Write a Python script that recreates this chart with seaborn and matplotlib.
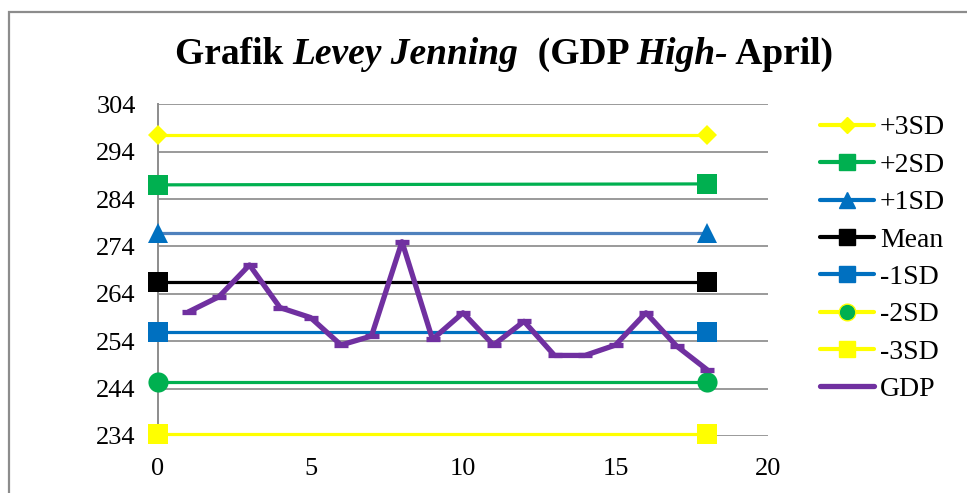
import matplotlib
matplotlib.use("Agg")
import matplotlib.pyplot as plt
from matplotlib.lines import Line2D
from matplotlib.patches import Rectangle
import seaborn as sns
import pandas as pd

sns.set_theme(style="white")
plt.rcParams["font.family"] = ["Liberation Serif", "DejaVu Serif"]
plt.rcParams["text.color"] = "black"

# Control limits (drawn at the first and last run)
limit_x = [0, 18]
plus3sd = [297.6, 297.6]
plus2sd = [287.0, 287.2]
plus1sd = [276.9, 276.9]
mean = [266.5, 266.5]
minus1sd = [255.9, 255.9]
minus2sd = [245.5, 245.5]
minus3sd = [234.4, 234.4]

# GDP measurements per run
runs = list(range(1, 19))
gdp = [260.2, 263.4, 270.1, 261.1, 259.0, 253.2, 255.1, 275.0, 254.4,
       260.0, 253.2, 258.2, 251.0, 251.0, 253.2, 260.0, 253.0, 248.0]

y_ticks = [234, 244, 254, 264, 274, 284, 294, 304]
x_ticks = [0, 5, 10, 15, 20]

YELLOW = "#FFFF00"
GREEN = "#00B050"
BLUE = "#0070C0"
STEEL = "#4F81BD"
PURPLE = "#7030A0"

W, H = 967, 493
fig = plt.figure(figsize=(W / 100, H / 100), dpi=100)
ax = fig.add_axes([158 / W, 1 - 436 / H, (768 - 158) / W, (436 - 104.3) / H])

# Outer chart border (top and left edges visible)
fig.patches.append(Rectangle((8.5 / W, -0.1), 1.2, (493 - 12.5) / H + 0.1,
                             transform=fig.transFigure, fill=False,
                             edgecolor="#8c8c8c", lw=1.6, zorder=0))

series = [
    ("+3SD", plus3sd, YELLOW, YELLOW, "D", 10),
    ("+2SD", plus2sd, GREEN, GREEN, "s", 14),
    ("+1SD", plus1sd, STEEL, BLUE, "^", 14),
    ("Mean", mean, "black", "black", "s", 14.5),
    ("-1SD", minus1sd, BLUE, BLUE, "s", 14.5),
    ("-2SD", minus2sd, GREEN, GREEN, "o", 14.5),
    ("-3SD", minus3sd, YELLOW, YELLOW, "s", 14.5),
]
for name, vals, lc, mc, mk, ms in series:
    df = pd.DataFrame({"x": limit_x, "y": vals})
    sns.lineplot(data=df, x="x", y="y", ax=ax, color=lc, lw=2.3,
                 marker=mk, markersize=ms, markerfacecolor=mc,
                 markeredgecolor=mc, markeredgewidth=0, zorder=3,
                 clip_on=False)

gdf = pd.DataFrame({"run": runs, "GDP": gdp})
sns.lineplot(data=gdf, x="run", y="GDP", ax=ax, color=PURPLE, lw=3.8,
             marker="_", markersize=10, markeredgewidth=3.8,
             markeredgecolor=PURPLE, zorder=4, clip_on=False)

ax.set_xlim(0, 20)
ax.set_ylim(234, 304)
ax.set_yticks(y_ticks)
ax.set_xticks(x_ticks)
ax.set_xlabel("")
ax.set_ylabel("")
ax.grid(axis="y", color="#9a9a9a", lw=1.4)
ax.grid(axis="x", visible=False)
ax.set_axisbelow(True)
for s in ["top", "right", "bottom"]:
    ax.spines[s].set_visible(False)
ax.spines["left"].set_color("#8c8c8c")
ax.spines["left"].set_linewidth(1.4)
ax.tick_params(axis="both", length=0, labelsize=19, colors="black")
ax.tick_params(axis="y", pad=16)
ax.tick_params(axis="x", pad=16)
ax.set_facecolor("white")

# Legend
handles = [
    Line2D([], [], color=YELLOW, lw=3, marker="D", ms=8, mfc=YELLOW, mec=YELLOW, solid_capstyle="round"),
    Line2D([], [], color=GREEN, lw=3, marker="s", ms=12, mfc=GREEN, mec=GREEN, solid_capstyle="round"),
    Line2D([], [], color=BLUE, lw=3, marker="^", ms=12, mfc=BLUE, mec=BLUE, solid_capstyle="round"),
    Line2D([], [], color="black", lw=3, marker="s", ms=12, mfc="black", mec="black", solid_capstyle="round"),
    Line2D([], [], color=BLUE, lw=3, marker="s", ms=12, mfc=BLUE, mec=BLUE, solid_capstyle="round"),
    Line2D([], [], color=YELLOW, lw=3, marker="o", ms=12, mfc=GREEN, mec=YELLOW, mew=1, solid_capstyle="round"),
    Line2D([], [], color=YELLOW, lw=3, marker="s", ms=12, mfc=YELLOW, mec=YELLOW, solid_capstyle="round"),
    Line2D([], [], color=PURPLE, lw=3.8, solid_capstyle="round"),
]
labels = ["+3SD", "+2SD", "+1SD", "Mean", "-1SD", "-2SD", "-3SD", "GDP"]
fig.legend(handles, labels, loc="upper left",
           bbox_to_anchor=(820 / W, 1 - 115 / H), frameon=False,
           fontsize=20, handlelength=1.95, handletextpad=0.2,
           labelspacing=0.43, borderaxespad=0, borderpad=0,
           labelcolor="black")

# Title with mixed upright / italic bold pieces
pieces = [("Grafik ", "normal"), ("Levey Jenning", "italic"),
          ("  (GDP ", "normal"), ("High-", "italic"), (" April)", "normal")]
renderer = fig.canvas.get_renderer()
texts = []
for txt, style in pieces:
    t = fig.text(0, 1 - 64 / H, txt, fontsize=27, fontweight="bold",
                 fontstyle=style, va="baseline", ha="left", color="black")
    texts.append(t)
widths = [t.get_window_extent(renderer).width for t in texts]
total = sum(widths)
x0 = 504 - total / 2
for t, w in zip(texts, widths):
    t.set_x(x0 / W)
    x0 += w

fig.savefig("out.png", dpi=100, facecolor="white")
